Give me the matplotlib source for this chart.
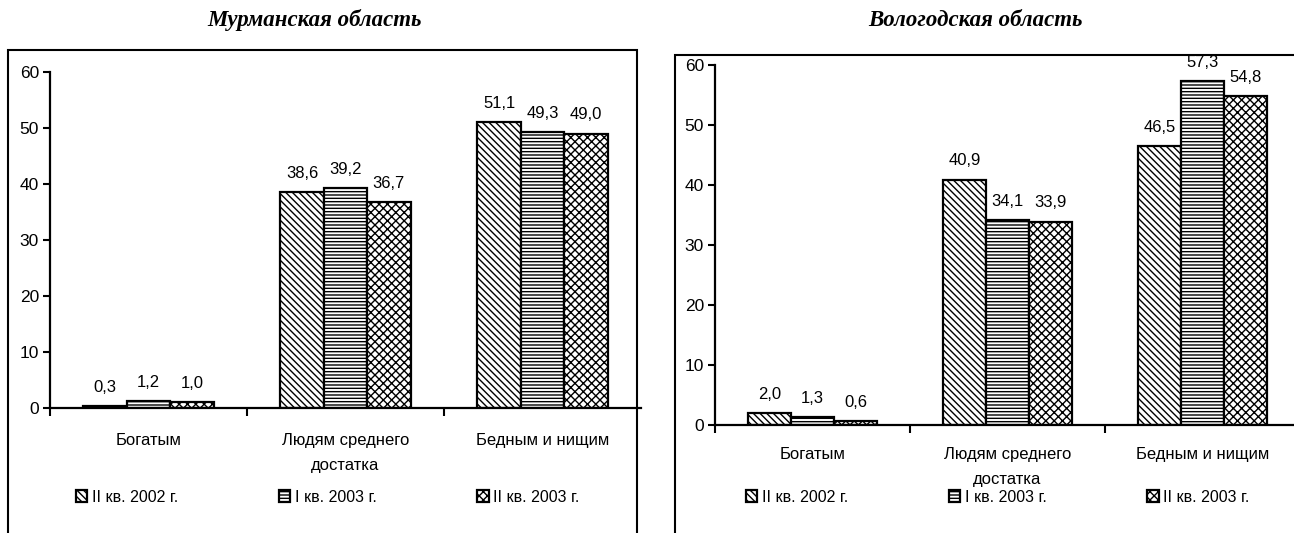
import matplotlib.pyplot as plt
from matplotlib.patches import Rectangle
import numpy as np

plt.rcParams['font.family'] = ['Liberation Sans', 'DejaVu Sans']
plt.rcParams['hatch.linewidth'] = 1.0

categories = ['Богатым', 'Людям среднего\nдостатка', 'Бедным и нищим']
series = ['II кв. 2002 г.', 'I кв. 2003 г.', 'II кв. 2003 г.']
murmansk = [[0.3, 38.6, 51.1], [1.2, 39.2, 49.3], [1.0, 36.7, 49.0]]
vologda = [[2.0, 40.9, 46.5], [1.3, 34.1, 57.3], [0.6, 33.9, 54.8]]
hatches = ['\\\\\\\\\\', '-----', 'xxxx']

fig = plt.figure(figsize=(12.94, 5.33), dpi=100)

def panel(rect, frame, title, title_x, data, label_pad, legend_x):
    fig.patches.append(Rectangle(frame[:2], frame[2], frame[3], transform=fig.transFigure,
                                 fill=False, edgecolor='black', linewidth=1.5))
    fig.text(title_x, 1 - 20 / 533, title, family='Liberation Serif', weight='bold',
             style='italic', fontsize=16.5, ha='center', va='center')
    ax = fig.add_axes(rect)
    ax.patch.set_alpha(0)
    x = np.arange(len(categories))
    w = 0.22
    for i, vals in enumerate(data):
        bars = ax.bar(x + (i - 1) * w, vals, w, facecolor='white', edgecolor='black',
                      linewidth=1.6, hatch=hatches[i], label=series[i])
        for b, v in zip(bars, vals):
            ax.annotate(f'{v:.1f}'.replace('.', ','), (b.get_x() + b.get_width() / 2, v),
                        xytext=(0, 8), textcoords='offset points', ha='center',
                        va='bottom', fontsize=12)
    ax.set_xlim(-0.5, 2.5)
    ax.set_ylim(0, 60)
    ax.set_yticks(range(0, 61, 10))
    ax.set_xticks(x)
    ax.set_xticklabels(categories, fontsize=12, linespacing=1.8)
    ax.tick_params(axis='x', length=0, pad=label_pad)
    ax.set_xticks([-0.5, 0.5, 1.5], minor=True)
    ax.tick_params(axis='x', which='minor', length=6, width=1.5, direction='out')
    ax.tick_params(axis='y', labelsize=12.5, length=5, width=1.5, pad=3)
    for s in ['top', 'right']:
        ax.spines[s].set_visible(False)
    for s in ['left', 'bottom']:
        ax.spines[s].set_linewidth(1.6)
    ax.legend(ncol=3, loc='center', bbox_to_anchor=(legend_x, 1 - 497 / 533),
              bbox_transform=fig.transFigure, frameon=False,
              fontsize=11.5, handlelength=0.7, handleheight=0.7, handletextpad=0.3,
              columnspacing=6.3)
    return ax

ax1 = panel([50 / 1294, 1 - 408 / 533, 591 / 1294, 336 / 533],
            [8 / 1294, -0.05, 629 / 1294, 1 - 50 / 533 + 0.05],
            'Мурманская область', 315 / 1294, murmansk, 18, 328 / 1294)
ax2 = panel([715 / 1294, 1 - 425 / 533, 585 / 1294, 360 / 533],
            [675 / 1294, -0.05, 0.5, 1 - 55 / 533 + 0.05],
            'Вологодская область', 975 / 1294, vologda, 16, 998 / 1294)

fig.savefig('out.png', dpi=100)
